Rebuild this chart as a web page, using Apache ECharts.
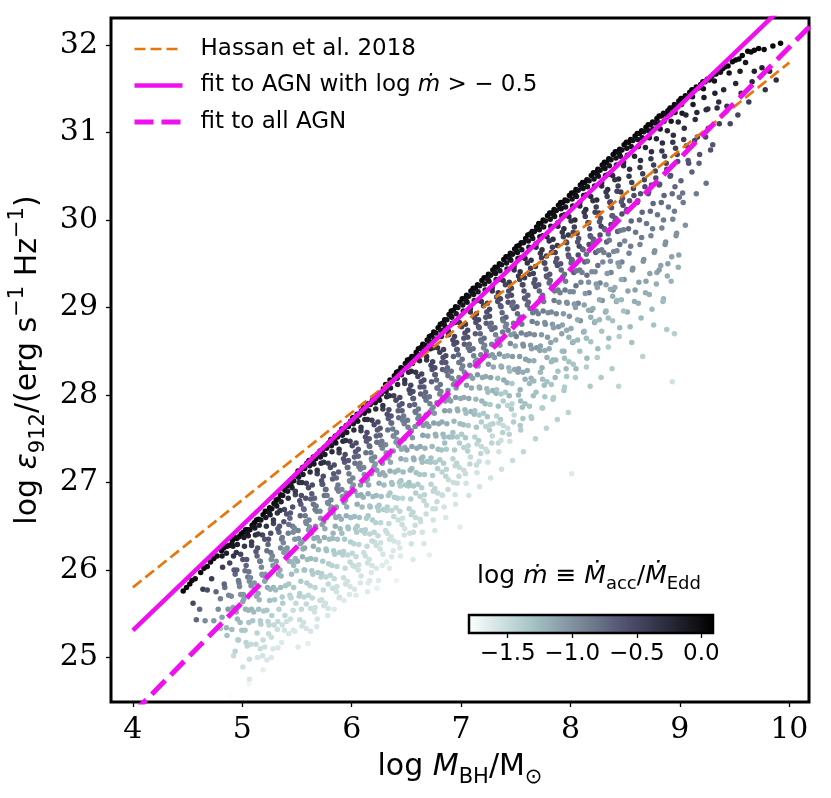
<!DOCTYPE html>
<html><head><meta charset="utf-8">
<script src="https://cdn.jsdelivr.net/npm/echarts@6/dist/echarts.min.js"></script>
<style>html,body{margin:0;padding:0;background:#fff}#c{width:831px;height:798px}</style>
</head><body><div id="c"></div>
<script>
const xTicks=[4,5,6,7,8,9,10];
const yTicks=[25,26,27,28,29,30,31,32];
const cbTicks=[-1.5,-1.0,-0.5,0.0];
const cbRange=[-1.8,0.09];
const legendNames=['Hassan et al. 2018','fit to AGN with log ṁ > − 0.5','fit to all AGN'];
const hassan=[[4,25.8],[10,31.8]];
const fitBright=[[4,25.31],[10.2,32.75]];
const fitAll=[[4,24.36],[10.2,32.23]];
const boneR=['#ffffff','#d3e3e3','#a8c7c7','#8ba1ab','#6f7b8f','#545474','#38384e','#1c1c27','#000000'];
// [log M_BH, log eps912, log mdot]
const agn=[
[4.46,25.76,0.03],[4.49,25.80,0.0],
[4.52,25.84,0.02],[4.54,25.88,0.0],[4.57,25.90,-0.03],[4.55,25.62,-0.5],[4.58,25.43,-0.72],
[4.62,25.97,0.02],[4.65,26.02,0.0],[4.68,26.04,-0.03],[4.64,25.78,-0.42],[4.68,25.77,-0.55],[4.61,25.55,-0.73],[4.66,25.42,-0.95],
[4.71,26.09,0.03],[4.74,26.13,0.0],[4.77,26.16,-0.02],[4.72,25.9,-0.4],[4.76,25.75,-0.72],[4.78,25.55,-0.97],[4.74,25.42,-1.04],
[4.81,26.22,0.02],[4.83,26.25,0.0],[4.86,26.27,0.03],[4.88,26.28,-0.04],[4.82,26.03,-0.42],[4.8,25.67,-0.88],[4.84,25.8,-0.8],[4.86,25.25,-1.3],[4.8,25.33,-1.3],[4.89,24.56,-1.78],[4.87,25.55,-1.05],
[4.91,26.34,0.03],[4.93,26.37,0.0],[4.95,26.36,0.02],[4.97,26.38,-0.04],[4.99,26.41,0.01],[4.92,26.16,-0.35],[4.95,26.0,-0.68],[4.97,25.85,-0.88],[4.9,25.7,-0.97],[4.94,25.55,-1.12],[4.98,25.4,-1.26],[4.96,25.2,-1.38],[4.92,25.02,-1.5],
[5.01,26.43,0.03],[5.03,26.46,0.0],[5.05,26.46,0.02],[5.07,26.46,-0.05],[5.09,26.51,0.0],[5.02,26.27,-0.35],[5.04,26.12,-0.63],[5.06,25.98,-0.82],[5.08,25.82,-1.0],[5.01,25.72,-1.04],[5.03,25.55,-1.2],[5.06,25.4,-1.32],[5.08,25.15,-1.5],[5.06,24.7,-1.72],[5.05,25.92,-0.85],
[5.11,26.54,0.04],[5.13,26.57,0.0],[5.15,26.58,0.02],[5.17,26.57,-0.05],[5.19,26.63,0.01],[5.12,26.4,-0.3],[5.14,26.25,-0.6],[5.16,26.1,-0.85],[5.18,25.95,-1.0],[5.11,25.85,-1.02],[5.13,25.7,-1.17],[5.15,25.55,-1.28],[5.17,25.38,-1.4],[5.19,25.2,-1.5],[5.14,25.0,-1.58],[5.19,24.86,-1.66],
[5.21,26.67,0.04],[5.23,26.67,0.0],[5.25,26.71,0.02],[5.27,26.7,-0.05],[5.29,26.76,0.01],[5.22,26.5,-0.35],[5.24,26.35,-0.62],[5.26,26.2,-0.85],[5.28,26.05,-1.02],[5.21,25.95,-1.03],[5.23,25.8,-1.16],[5.25,25.65,-1.28],[5.27,25.48,-1.4],[5.29,25.37,-1.47],[5.24,25.27,-1.5],[5.28,25.1,-1.6],[5.26,26.42,-0.55],
[5.31,26.8,0.04],[5.33,26.81,0.0],[5.35,26.86,0.02],[5.37,26.85,-0.05],[5.39,26.91,0.01],[5.32,26.65,-0.32],[5.34,26.5,-0.62],[5.36,26.35,-0.86],[5.38,26.2,-1.03],[5.31,26.1,-1.02],[5.33,25.95,-1.16],[5.35,25.8,-1.27],[5.37,25.62,-1.38],[5.39,25.48,-1.47],[5.36,25.17,-1.62],[5.32,25.32,-1.53],[5.38,26.55,-0.6],[5.35,26.25,-0.93],
[5.41,26.96,0.04],[5.43,26.98,0.0],[5.45,27.03,0.02],[5.47,27.02,-0.05],[5.49,27.08,0.01],[5.42,26.82,-0.3],[5.44,26.65,-0.65],[5.46,26.5,-0.86],[5.48,26.35,-1.02],[5.41,26.25,-1.01],[5.43,26.1,-1.15],[5.45,25.95,-1.26],[5.47,25.8,-1.37],[5.49,25.62,-1.48],[5.44,25.44,-1.54],[5.48,25.3,-1.6],[5.46,26.72,-0.58],[5.42,26.42,-0.88],[5.47,26.05,-1.25],
[5.51,27.13,0.04],[5.53,27.13,0.0],[5.55,27.17,0.02],[5.57,27.16,-0.05],[5.59,27.22,0.01],[5.52,27.0,-0.27],[5.54,26.85,-0.55],[5.56,26.7,-0.75],[5.58,26.55,-0.92],[5.51,26.45,-0.92],[5.53,26.3,-1.08],[5.55,26.15,-1.18],[5.57,26.0,-1.3],[5.59,25.85,-1.4],[5.52,25.7,-1.42],[5.54,25.55,-1.49],[5.56,25.4,-1.55],[5.51,25.12,-1.62],[5.58,26.82,-0.6],[5.53,26.62,-0.72],[5.57,26.25,-1.12],
[5.61,27.25,0.04],[5.63,27.25,0.0],[5.65,27.29,0.02],[5.67,27.27,-0.05],[5.69,27.32,0.01],[5.62,27.12,-0.27],[5.64,26.97,-0.55],[5.66,26.82,-0.73],[5.68,26.67,-0.9],[5.61,26.57,-0.93],[5.63,26.42,-1.07],[5.65,26.27,-1.17],[5.67,26.12,-1.29],[5.69,25.97,-1.38],[5.62,25.82,-1.42],[5.64,25.68,-1.48],[5.66,25.52,-1.55],[5.6,25.16,-1.66],[5.68,25.35,-1.6],[5.65,26.75,-0.8],[5.67,26.5,-1.0],
[5.71,27.36,0.04],[5.73,27.36,0.0],[5.75,27.4,0.02],[5.77,27.39,-0.05],[5.79,27.45,0.01],[5.72,27.22,-0.28],[5.74,27.07,-0.55],[5.76,26.92,-0.74],[5.78,26.77,-0.92],[5.71,26.67,-0.93],[5.73,26.52,-1.08],[5.75,26.37,-1.18],[5.77,26.22,-1.3],[5.79,26.07,-1.39],[5.72,25.92,-1.42],[5.74,25.77,-1.49],[5.76,25.62,-1.55],[5.71,25.65,-1.53],[5.78,25.48,-1.6],[5.75,26.85,-0.8],[5.77,26.6,-1.02],[5.73,26.98,-0.62],
[5.81,27.49,0.04],[5.83,27.49,0.0],[5.85,27.53,0.02],[5.87,27.52,-0.05],[5.89,27.57,0.01],[5.82,27.35,-0.27],[5.84,27.2,-0.55],[5.86,27.05,-0.74],[5.88,26.9,-0.92],[5.81,26.8,-0.93],[5.83,26.65,-1.08],[5.85,26.5,-1.17],[5.87,26.35,-1.29],[5.89,26.2,-1.39],[5.82,26.05,-1.42],[5.84,25.9,-1.49],[5.86,25.75,-1.55],[5.89,25.69,-1.57],[5.84,25.55,-1.62],[5.88,27.12,-0.68],[5.86,26.72,-1.02],[5.83,26.42,-1.22],
[5.91,27.61,0.04],[5.93,27.61,0.0],[5.95,27.65,0.02],[5.97,27.64,-0.05],[5.99,27.7,0.01],[5.92,27.47,-0.28],[5.94,27.32,-0.55],[5.96,27.17,-0.74],[5.98,27.02,-0.92],[5.91,26.92,-0.93],[5.93,26.77,-1.08],[5.95,26.62,-1.18],[5.97,26.47,-1.3],[5.99,26.32,-1.39],[5.92,26.17,-1.42],[5.94,26.02,-1.49],[5.96,25.87,-1.55],[5.98,25.72,-1.6],[5.93,25.65,-1.62],[5.97,27.25,-0.65],[5.95,26.88,-1.0],[5.99,26.6,-1.2],[5.91,26.42,-1.28],
[6.01,27.74,0.04],[6.03,27.74,0.0],[6.05,27.78,0.02],[6.07,27.77,-0.05],[6.09,27.82,0.01],[6.02,27.6,-0.27],[6.04,27.45,-0.55],[6.06,27.3,-0.74],[6.08,27.15,-0.92],[6.01,27.05,-0.93],[6.03,26.9,-1.07],[6.05,26.75,-1.17],[6.07,26.6,-1.29],[6.09,26.45,-1.38],[6.02,26.3,-1.42],[6.04,26.15,-1.48],[6.06,26.0,-1.55],[6.08,25.85,-1.6],[6.04,25.71,-1.63],[6.06,27.38,-0.63],[6.03,27.22,-0.8],[6.08,26.97,-1.05],[6.05,26.5,-1.34],[6.01,26.05,-1.52],
[6.11,27.86,0.04],[6.13,27.86,0.0],[6.15,27.9,0.02],[6.17,27.89,-0.05],[6.19,27.94,0.01],[6.12,27.72,-0.27],[6.14,27.57,-0.55],[6.16,27.42,-0.74],[6.18,27.27,-0.92],[6.11,27.17,-0.93],[6.13,27.02,-1.07],[6.15,26.87,-1.17],[6.17,26.72,-1.29],[6.19,26.57,-1.38],[6.12,26.42,-1.42],[6.14,26.27,-1.48],[6.16,26.12,-1.55],[6.18,25.97,-1.6],[6.15,25.85,-1.63],[6.16,27.5,-0.63],[6.13,27.34,-0.8],[6.18,27.1,-1.05],[6.15,26.62,-1.34],[6.11,26.2,-1.52],
[6.21,27.98,0.04],[6.23,27.98,0.0],[6.25,28.02,0.02],[6.27,28.01,-0.05],[6.29,28.07,0.01],[6.22,27.84,-0.27],[6.24,27.69,-0.55],[6.26,27.54,-0.74],[6.28,27.39,-0.92],[6.21,27.29,-0.93],[6.23,27.14,-1.07],[6.25,26.99,-1.17],[6.27,26.84,-1.29],[6.29,26.69,-1.38],[6.22,26.54,-1.42],[6.24,26.39,-1.48],[6.26,26.24,-1.55],[6.23,25.79,-1.68],[6.28,26.05,-1.62],[6.26,27.62,-0.63],[6.23,27.46,-0.8],[6.28,27.22,-1.05],[6.25,26.74,-1.34],[6.21,26.32,-1.52],
[6.31,28.12,0.04],[6.33,28.12,0.0],[6.35,28.17,0.02],[6.37,28.16,-0.05],[6.39,28.22,0.01],[6.32,27.98,-0.27],[6.34,27.83,-0.55],[6.36,27.68,-0.74],[6.38,27.53,-0.92],[6.31,27.43,-0.93],[6.33,27.28,-1.07],[6.35,27.13,-1.17],[6.37,26.98,-1.29],[6.39,26.83,-1.38],[6.32,26.68,-1.42],[6.34,26.53,-1.48],[6.36,26.38,-1.55],[6.32,26.09,-1.64],[6.38,26.22,-1.6],[6.36,27.76,-0.63],[6.33,27.6,-0.8],[6.38,27.36,-1.05],[6.35,26.88,-1.34],[6.31,26.45,-1.52],
[6.41,28.26,0.04],[6.43,28.27,0.0],[6.45,28.31,0.02],[6.47,28.3,-0.05],[6.49,28.36,0.01],[6.42,28.12,-0.25],[6.44,27.97,-0.52],[6.46,27.82,-0.7],[6.48,27.67,-0.88],[6.41,27.57,-0.9],[6.43,27.42,-1.04],[6.45,27.27,-1.14],[6.47,27.12,-1.26],[6.49,26.97,-1.35],[6.42,26.82,-1.4],[6.44,26.67,-1.46],[6.46,26.52,-1.52],[6.41,25.88,-1.7],[6.44,26.25,-1.6],[6.48,26.4,-1.56],[6.46,27.9,-0.6],[6.43,27.74,-0.77],[6.48,27.5,-1.0],[6.45,27.02,-1.3],
[6.51,28.4,0.04],[6.53,28.41,0.0],[6.55,28.44,0.02],[6.57,28.44,-0.05],[6.59,28.49,0.01],[6.52,28.26,-0.24],[6.54,28.11,-0.48],[6.56,27.96,-0.65],[6.58,27.81,-0.82],[6.51,27.71,-0.84],[6.53,27.56,-0.98],[6.55,27.41,-1.1],[6.57,27.26,-1.2],[6.59,27.11,-1.3],[6.52,26.96,-1.33],[6.54,26.81,-1.4],[6.56,26.66,-1.46],[6.58,26.51,-1.52],[6.53,26.42,-1.54],[6.56,26.12,-1.62],[6.56,28.04,-0.57],[6.53,27.88,-0.7],[6.58,27.64,-0.96],[6.55,27.16,-1.25],
[6.61,28.53,0.04],[6.63,28.54,0.0],[6.65,28.58,0.02],[6.67,28.57,-0.05],[6.69,28.63,0.01],[6.62,28.39,-0.24],[6.64,28.24,-0.48],[6.66,28.09,-0.65],[6.68,27.94,-0.82],[6.61,27.84,-0.84],[6.63,27.69,-0.98],[6.65,27.54,-1.1],[6.67,27.39,-1.2],[6.69,27.24,-1.3],[6.62,27.09,-1.33],[6.64,26.94,-1.4],[6.66,26.79,-1.46],[6.68,26.64,-1.52],[6.63,26.55,-1.54],[6.66,26.3,-1.6],[6.66,28.17,-0.57],[6.63,28.01,-0.7],[6.68,27.77,-0.96],[6.65,27.29,-1.25],
[6.71,28.67,0.04],[6.73,28.68,0.0],[6.75,28.72,0.02],[6.77,28.71,-0.05],[6.79,28.77,0.01],[6.72,28.53,-0.23],[6.74,28.38,-0.47],[6.76,28.23,-0.64],[6.78,28.08,-0.8],[6.71,27.98,-0.82],[6.73,27.83,-0.96],[6.75,27.68,-1.08],[6.77,27.53,-1.18],[6.79,27.38,-1.28],[6.72,27.23,-1.32],[6.74,27.08,-1.38],[6.76,26.93,-1.45],[6.78,26.78,-1.5],[6.71,26.17,-1.66],[6.74,26.7,-1.54],[6.76,26.45,-1.6],[6.76,28.31,-0.56],[6.73,28.15,-0.7],[6.78,27.91,-0.94],
[6.81,28.81,0.04],[6.83,28.82,0.0],[6.85,28.86,0.02],[6.87,28.86,-0.05],[6.89,28.92,0.01],[6.82,28.67,-0.23],[6.84,28.52,-0.47],[6.86,28.37,-0.63],[6.88,28.22,-0.8],[6.81,28.12,-0.82],[6.83,27.97,-0.96],[6.85,27.82,-1.07],[6.87,27.67,-1.17],[6.89,27.52,-1.27],[6.82,27.37,-1.31],[6.84,27.22,-1.38],[6.86,27.07,-1.44],[6.88,26.92,-1.5],[6.83,26.85,-1.52],[6.86,26.6,-1.6],[6.86,28.45,-0.55],[6.83,28.29,-0.7],[6.88,28.05,-0.94],[6.85,27.45,-1.28],
[6.91,28.96,0.04],[6.93,28.97,0.0],[6.95,29.01,0.02],[6.97,29.0,-0.05],[6.99,29.06,0.01],[6.92,28.82,-0.23],[6.94,28.67,-0.46],[6.96,28.52,-0.63],[6.98,28.37,-0.79],[6.91,28.27,-0.81],[6.93,28.12,-0.95],[6.95,27.97,-1.06],[6.97,27.82,-1.17],[6.99,27.67,-1.26],[6.92,27.52,-1.3],[6.94,27.37,-1.37],[6.96,27.22,-1.43],[6.98,27.07,-1.49],[6.93,27.0,-1.52],[6.99,26.49,-1.64],[6.95,26.75,-1.58],[6.96,28.6,-0.55],[6.93,28.44,-0.7],[6.98,28.2,-0.93],
[7.01,29.1,0.04],[7.03,29.1,0.0],[7.05,29.14,0.02],[7.07,29.13,-0.05],[7.09,29.19,0.01],[7.02,28.96,-0.22],[7.04,28.81,-0.44],[7.06,28.66,-0.6],[7.08,28.51,-0.76],[7.01,28.41,-0.79],[7.03,28.26,-0.92],[7.05,28.11,-1.03],[7.07,27.96,-1.13],[7.09,27.81,-1.22],[7.02,27.66,-1.27],[7.04,27.51,-1.34],[7.06,27.36,-1.4],[7.08,27.21,-1.46],[7.04,27.1,-1.5],[7.07,26.85,-1.57],[7.06,28.74,-0.52],[7.03,28.58,-0.67],[7.08,28.34,-0.9],
[7.11,29.22,0.04],[7.13,29.22,0.0],[7.15,29.26,0.02],[7.17,29.25,-0.05],[7.19,29.31,0.01],[7.12,29.08,-0.22],[7.14,28.93,-0.44],[7.16,28.78,-0.6],[7.18,28.63,-0.75],[7.11,28.53,-0.78],[7.13,28.38,-0.91],[7.15,28.23,-1.02],[7.17,28.08,-1.12],[7.19,27.93,-1.21],[7.12,27.78,-1.26],[7.14,27.63,-1.33],[7.16,27.48,-1.39],[7.18,27.33,-1.45],[7.14,27.2,-1.5],[7.17,26.95,-1.57],[7.16,28.86,-0.52],[7.13,28.7,-0.67],[7.18,28.46,-0.9],
[7.21,29.34,0.04],[7.23,29.34,0.0],[7.25,29.38,0.02],[7.27,29.37,-0.05],[7.29,29.43,0.01],[7.22,29.2,-0.21],[7.24,29.05,-0.43],[7.26,28.9,-0.59],[7.28,28.75,-0.74],[7.21,28.65,-0.77],[7.23,28.5,-0.9],[7.25,28.35,-1.0],[7.27,28.2,-1.1],[7.29,28.05,-1.19],[7.22,27.9,-1.25],[7.24,27.75,-1.32],[7.26,27.6,-1.38],[7.28,27.45,-1.44],[7.24,27.35,-1.48],[7.27,27.05,-1.56],[7.26,28.98,-0.51],[7.23,28.82,-0.66],[7.28,28.58,-0.88],
[7.31,29.46,0.04],[7.33,29.46,0.0],[7.35,29.5,0.02],[7.37,29.49,-0.05],[7.39,29.55,0.01],[7.32,29.32,-0.2],[7.34,29.17,-0.41],[7.36,29.02,-0.56],[7.38,28.87,-0.71],[7.31,28.77,-0.74],[7.33,28.62,-0.87],[7.35,28.47,-0.98],[7.37,28.32,-1.07],[7.39,28.17,-1.16],[7.32,28.02,-1.22],[7.34,27.87,-1.29],[7.36,27.72,-1.35],[7.38,27.57,-1.41],[7.29,27.67,-1.4],[7.34,27.45,-1.46],[7.37,27.15,-1.54],[7.36,29.1,-0.5],[7.38,28.72,-0.84],
[7.41,29.58,0.04],[7.43,29.58,0.0],[7.45,29.62,0.02],[7.47,29.61,-0.05],[7.49,29.67,0.01],[7.42,29.44,-0.19],[7.44,29.29,-0.39],[7.46,29.14,-0.54],[7.48,28.99,-0.68],[7.41,28.89,-0.71],[7.43,28.74,-0.84],[7.45,28.59,-0.95],[7.47,28.44,-1.04],[7.49,28.29,-1.13],[7.42,28.14,-1.19],[7.44,27.99,-1.26],[7.46,27.84,-1.32],[7.48,27.69,-1.38],[7.44,27.55,-1.42],[7.47,27.25,-1.5],[7.46,29.22,-0.48],[7.43,29.06,-0.63],[7.48,28.82,-0.82],
[7.51,29.7,0.04],[7.53,29.71,0.0],[7.55,29.74,0.02],[7.57,29.74,-0.05],[7.59,29.79,0.01],[7.52,29.56,-0.17],[7.54,29.41,-0.34],[7.56,29.26,-0.48],[7.58,29.11,-0.6],[7.51,29.01,-0.67],[7.53,28.86,-0.79],[7.55,28.71,-0.9],[7.57,28.56,-0.99],[7.59,28.41,-1.07],[7.52,28.26,-1.13],[7.54,28.06,-1.21],[7.56,27.86,-1.29],[7.54,27.65,-1.36],[7.57,27.35,-1.45],[7.58,29.34,-0.42],
[7.61,29.83,0.04],[7.63,29.84,0.0],[7.65,29.87,0.02],[7.67,29.87,-0.05],[7.69,29.92,0.01],[7.62,29.69,-0.17],[7.64,29.54,-0.33],[7.66,29.39,-0.47],[7.68,29.24,-0.59],[7.61,29.14,-0.66],[7.63,28.99,-0.78],[7.65,28.84,-0.88],[7.67,28.69,-0.97],[7.69,28.54,-1.05],[7.62,28.39,-1.12],[7.64,28.19,-1.2],[7.66,27.99,-1.28],[7.64,27.75,-1.36],[7.68,27.5,-1.43],[7.68,29.47,-0.41],
[7.71,29.96,0.04],[7.73,29.96,0.0],[7.75,30.0,0.02],[7.77,29.99,-0.05],[7.79,30.05,0.01],[7.72,29.81,-0.16],[7.74,29.66,-0.32],[7.76,29.51,-0.46],[7.78,29.36,-0.58],[7.71,29.26,-0.64],[7.73,29.11,-0.76],[7.75,28.96,-0.86],[7.77,28.81,-0.95],[7.79,28.66,-1.03],[7.72,28.51,-1.1],[7.74,28.31,-1.19],[7.76,28.11,-1.27],[7.74,27.85,-1.36],[7.78,27.62,-1.43],[7.78,29.59,-0.4],
[7.81,30.08,0.04],[7.83,30.08,0.0],[7.85,30.12,0.02],[7.87,30.11,-0.05],[7.89,30.17,0.01],[7.82,29.93,-0.16],[7.84,29.78,-0.31],[7.86,29.63,-0.45],[7.88,29.48,-0.57],[7.81,29.38,-0.63],[7.83,29.23,-0.75],[7.85,29.08,-0.85],[7.87,28.93,-0.94],[7.89,28.78,-1.02],[7.82,28.6,-1.1],[7.84,28.4,-1.18],[7.86,28.2,-1.26],[7.84,27.95,-1.35],[7.88,27.72,-1.42],[7.88,29.71,-0.39],
[7.91,30.2,0.04],[7.93,30.2,0.0],[7.95,30.23,0.02],[7.97,30.22,-0.05],[7.99,30.28,0.01],[7.92,30.05,-0.16],[7.94,29.9,-0.3],[7.96,29.75,-0.44],[7.98,29.6,-0.56],[7.91,29.5,-0.62],[7.93,29.35,-0.74],[7.95,29.2,-0.84],[7.97,29.05,-0.93],[7.99,28.9,-1.01],[7.92,28.7,-1.1],[7.94,28.5,-1.18],[7.96,28.3,-1.26],[7.94,28.05,-1.35],[7.98,27.8,-1.43],[7.98,29.83,-0.38],
[8.01,30.31,0.04],[8.03,30.31,0.0],[8.05,30.35,0.02],[8.07,30.34,-0.05],[8.09,30.4,0.01],[8.02,30.16,-0.15],[8.04,30.0,-0.28],[8.06,29.85,-0.4],[8.08,29.7,-0.5],[8.01,29.55,-0.6],[8.03,29.4,-0.7],[8.05,29.25,-0.8],[8.07,29.05,-0.9],[8.09,28.85,-1.0],[8.02,28.6,-1.12],[8.05,28.3,-1.25],[8.01,27.1,-1.62],[8.07,29.6,-0.57],
[8.11,30.43,0.04],[8.13,30.43,0.0],[8.15,30.46,0.02],[8.17,30.45,-0.05],[8.19,30.51,0.01],[8.12,30.28,-0.14],[8.14,30.12,-0.28],[8.16,29.97,-0.4],[8.18,29.82,-0.5],[8.11,29.67,-0.6],[8.13,29.52,-0.7],[8.15,29.37,-0.8],[8.17,29.17,-0.9],[8.19,28.97,-1.0],[8.12,28.72,-1.12],[8.15,28.42,-1.25],[8.18,28.1,-1.36],[8.17,29.72,-0.57],
[8.21,30.54,0.04],[8.23,30.54,0.0],[8.25,30.58,0.02],[8.27,30.57,-0.05],[8.29,30.63,0.01],[8.22,30.39,-0.14],[8.24,30.23,-0.28],[8.26,30.08,-0.4],[8.28,29.93,-0.5],[8.21,29.78,-0.6],[8.23,29.63,-0.7],[8.25,29.48,-0.8],[8.27,29.28,-0.9],[8.29,29.08,-1.0],[8.22,28.83,-1.12],[8.25,28.53,-1.25],[8.28,28.2,-1.36],[8.27,29.83,-0.57],
[8.31,30.66,0.04],[8.33,30.66,0.0],[8.35,30.7,0.02],[8.37,30.69,-0.05],[8.39,30.75,0.01],[8.32,30.51,-0.14],[8.34,30.35,-0.28],[8.36,30.2,-0.4],[8.38,30.05,-0.5],[8.31,29.9,-0.6],[8.33,29.75,-0.7],[8.35,29.6,-0.8],[8.37,29.4,-0.9],[8.39,29.2,-1.0],[8.32,28.95,-1.12],[8.35,28.65,-1.25],[8.38,28.3,-1.37],[8.37,29.95,-0.57],
[8.41,30.78,0.04],[8.43,30.78,0.0],[8.45,30.81,0.02],[8.47,30.8,-0.05],[8.49,30.86,0.01],[8.42,30.63,-0.14],[8.44,30.47,-0.28],[8.46,30.32,-0.4],[8.48,30.17,-0.5],[8.41,30.02,-0.6],[8.43,29.87,-0.7],[8.45,29.72,-0.8],[8.47,29.52,-0.9],[8.49,29.32,-1.0],[8.42,29.07,-1.12],[8.45,28.77,-1.25],[8.44,28.1,-1.45],[8.47,30.07,-0.57],
[8.51,30.89,0.04],[8.53,30.89,0.0],[8.55,30.92,0.02],[8.57,30.91,-0.05],[8.59,30.96,0.01],[8.52,30.74,-0.12],[8.54,30.58,-0.3],[8.56,30.43,-0.43],[8.58,30.28,-0.55],[8.51,30.1,-0.62],[8.53,29.9,-0.75],[8.55,29.7,-0.86],[8.57,29.45,-1.0],[8.59,29.2,-1.1],[8.52,28.95,-1.18],[8.56,28.6,-1.3],[8.54,30.22,-0.6],
[8.61,30.99,0.04],[8.63,30.99,0.0],[8.65,31.02,0.02],[8.67,31.01,-0.05],[8.69,31.06,0.01],[8.62,30.84,-0.12],[8.64,30.68,-0.3],[8.66,30.53,-0.43],[8.68,30.38,-0.55],[8.61,30.2,-0.62],[8.63,30.0,-0.75],[8.65,29.8,-0.86],[8.67,29.55,-1.0],[8.69,29.3,-1.1],[8.62,29.05,-1.18],[8.66,28.44,-1.42],[8.64,30.3,-0.6],
[8.71,31.09,0.04],[8.73,31.09,0.0],[8.75,31.12,0.02],[8.77,31.11,-0.05],[8.79,31.16,0.01],[8.72,30.94,-0.12],[8.74,30.78,-0.3],[8.76,30.63,-0.43],[8.78,30.48,-0.55],[8.71,30.3,-0.62],[8.73,30.1,-0.75],[8.75,29.9,-0.86],[8.77,29.65,-1.0],[8.79,29.4,-1.1],[8.72,29.15,-1.18],[8.76,28.8,-1.3],[8.74,30.4,-0.6],
[8.81,31.19,0.04],[8.83,31.19,0.0],[8.85,31.22,0.02],[8.87,31.21,-0.05],[8.89,31.25,0.01],[8.82,31.04,-0.12],[8.84,30.88,-0.3],[8.86,30.73,-0.43],[8.88,30.58,-0.55],[8.81,30.4,-0.62],[8.83,30.2,-0.75],[8.85,30.0,-0.86],[8.87,29.75,-1.0],[8.81,29.43,-1.08],[8.89,29.5,-1.08],[8.85,29.1,-1.22],[8.88,28.75,-1.35],
[8.91,31.28,0.04],[8.93,31.28,0.0],[8.95,31.32,0.02],[8.97,31.31,-0.05],[8.99,31.36,0.01],[8.92,31.13,-0.12],[8.94,30.97,-0.3],[8.96,30.82,-0.43],[8.98,30.67,-0.55],[8.91,30.5,-0.62],[8.93,30.3,-0.75],[8.95,30.1,-0.86],[8.97,29.85,-1.0],[8.99,29.6,-1.1],[8.92,29.3,-1.22],[8.93,28.15,-1.55],[8.95,28.7,-1.4],
[9.01,31.39,0.04],[9.03,31.39,0.0],[9.05,31.42,0.02],[9.07,31.41,-0.05],[9.09,31.46,0.01],[9.02,31.22,-0.14],[9.04,31.05,-0.3],[9.06,30.85,-0.45],[9.08,30.65,-0.58],[9.01,30.45,-0.7],[9.05,29.94,-1.0],[9.03,30.2,-0.85],
[9.11,31.49,0.04],[9.13,31.49,0.0],[9.15,31.52,0.02],[9.17,31.51,-0.05],[9.19,31.55,0.01],[9.12,31.32,-0.14],[9.14,31.15,-0.3],[9.16,30.95,-0.45],[9.18,30.75,-0.58],[9.11,30.55,-0.7],[9.15,30.3,-0.85],
[9.21,31.58,0.04],[9.23,31.58,0.0],[9.25,31.61,0.02],[9.27,31.6,-0.05],[9.29,31.64,0.01],[9.22,31.4,-0.15],[9.24,31.26,-0.26],[9.26,31.05,-0.42],[9.28,30.8,-0.58],[9.24,30.42,-0.8],
[9.31,31.67,0.04],[9.33,31.67,0.0],[9.35,31.7,0.02],[9.37,31.69,-0.05],[9.39,31.73,0.01],[9.32,31.45,-0.18],[9.34,31.28,-0.3],[9.36,31.1,-0.45],[9.3,30.86,-0.62],
[9.41,31.75,0.04],[9.44,31.76,0.0],[9.48,31.81,0.02],[9.4,31.49,-0.22],[9.43,31.3,-0.36],[9.46,31.1,-0.52],
[9.51,31.83,0.04],[9.54,31.84,0.0],[9.57,31.88,0.02],[9.51,31.56,-0.22],[9.56,31.45,-0.3],[9.53,31.2,-0.48],
[9.62,31.93,0.04],[9.65,31.92,0.0],[9.68,31.94,0.02],[9.66,31.58,-0.25],[9.68,31.7,-0.17],[9.63,31.35,-0.42],
[9.72,31.96,0.04],[9.77,31.95,0.0],[9.75,31.74,-0.18],[9.78,31.49,-0.35],
[9.85,31.99,0.02],[9.82,31.7,-0.22],[9.88,31.6,-0.3],
[9.92,32.02,0.03]
];
// second pass of points read between the first ones
const agnFill=[
[4.815,26.16,-0.14],[4.855,26.19,-0.18],[4.885,26.08,-0.48],[4.835,25.84,-0.72],[4.875,25.71,-0.93],[4.815,25.46,-1.1],[4.855,25.34,-1.22],
[4.915,26.27,-0.14],[4.955,26.29,-0.18],[4.985,26.18,-0.48],[4.935,25.95,-0.72],[4.975,25.81,-0.93],[4.915,25.57,-1.1],[4.955,25.44,-1.22],[4.995,25.31,-1.33],[4.935,25.07,-1.43],
[5.015,26.37,-0.14],[5.055,26.39,-0.18],[5.085,26.28,-0.48],[5.035,26.05,-0.72],[5.075,25.91,-0.93],[5.015,25.67,-1.1],[5.055,25.54,-1.22],[5.095,25.42,-1.33],[5.035,25.17,-1.43],[5.065,24.98,-1.52],
[5.115,26.48,-0.14],[5.155,26.51,-0.18],[5.185,26.40,-0.48],[5.135,26.16,-0.72],[5.175,26.03,-0.93],[5.115,25.78,-1.1],[5.155,25.66,-1.22],[5.195,25.53,-1.33],[5.135,25.28,-1.43],[5.165,25.10,-1.52],
[5.215,26.60,-0.14],[5.255,26.63,-0.18],[5.285,26.53,-0.48],[5.235,26.29,-0.72],[5.275,26.16,-0.93],[5.215,25.90,-1.1],[5.255,25.78,-1.22],[5.295,25.66,-1.33],[5.235,25.41,-1.43],[5.265,25.23,-1.52],[5.225,24.97,-1.6],
[5.315,26.73,-0.14],[5.355,26.78,-0.18],[5.385,26.69,-0.48],[5.335,26.43,-0.72],[5.375,26.31,-0.93],[5.315,26.03,-1.1],[5.355,25.93,-1.22],[5.395,25.82,-1.33],[5.335,25.55,-1.43],[5.365,25.37,-1.52],[5.325,25.11,-1.6],
[5.415,26.90,-0.14],[5.455,26.94,-0.18],[5.485,26.86,-0.48],[5.435,26.59,-0.72],[5.475,26.48,-0.93],[5.415,26.20,-1.1],[5.455,26.09,-1.22],[5.495,25.99,-1.33],[5.435,25.71,-1.43],[5.465,25.54,-1.52],[5.425,25.27,-1.6],
[5.515,27.06,-0.12],[5.555,27.09,-0.15],[5.585,26.99,-0.44],[5.535,26.75,-0.65],[5.575,26.62,-0.85],[5.515,26.36,-1.02],[5.555,26.24,-1.14],[5.595,26.12,-1.25],[5.535,25.87,-1.35],[5.565,25.69,-1.45],[5.525,25.43,-1.52],[5.585,25.33,-1.57],
[5.615,27.19,-0.12],[5.655,27.21,-0.15],[5.685,27.10,-0.44],[5.635,26.87,-0.65],[5.675,26.73,-0.85],[5.615,26.49,-1.02],[5.655,26.36,-1.14],[5.695,26.23,-1.25],[5.635,25.99,-1.35],[5.665,25.80,-1.45],[5.625,25.56,-1.52],[5.685,25.44,-1.57],
[5.715,27.29,-0.12],[5.755,27.32,-0.15],[5.785,27.22,-0.44],[5.735,26.98,-0.65],[5.775,26.85,-0.85],[5.715,26.59,-1.02],[5.755,26.47,-1.14],[5.795,26.35,-1.25],[5.735,26.10,-1.35],[5.765,25.92,-1.45],[5.725,25.66,-1.52],[5.785,25.56,-1.57],
[5.815,27.42,-0.12],[5.855,27.45,-0.15],[5.885,27.34,-0.44],[5.835,27.10,-0.65],[5.875,26.97,-0.85],[5.815,26.72,-1.02],[5.855,26.60,-1.14],[5.895,26.47,-1.25],[5.835,26.22,-1.35],[5.865,26.04,-1.45],[5.825,25.79,-1.52],[5.885,25.68,-1.57],
[5.915,27.54,-0.12],[5.955,27.57,-0.15],[5.985,27.47,-0.44],[5.935,27.23,-0.65],[5.975,27.10,-0.85],[5.915,26.84,-1.02],[5.955,26.72,-1.14],[5.995,26.60,-1.25],[5.935,26.35,-1.35],[5.965,26.17,-1.45],[5.925,25.91,-1.52],[5.985,25.81,-1.57],
[6.015,27.67,-0.12],[6.055,27.70,-0.15],[6.085,27.59,-0.44],[6.035,27.35,-0.65],[6.075,27.22,-0.85],[6.015,26.97,-1.02],[6.055,26.85,-1.14],[6.095,26.72,-1.25],[6.035,26.47,-1.35],[6.065,26.29,-1.45],[6.025,26.04,-1.52],[6.085,25.93,-1.57],
[6.115,27.79,-0.12],[6.155,27.82,-0.15],[6.185,27.71,-0.44],[6.135,27.47,-0.65],[6.175,27.34,-0.85],[6.115,27.09,-1.02],[6.155,26.97,-1.14],[6.195,26.84,-1.25],[6.135,26.59,-1.35],[6.165,26.41,-1.45],[6.125,26.16,-1.52],[6.185,26.05,-1.57],[6.145,25.75,-1.63],
[6.215,27.91,-0.12],[6.255,27.94,-0.15],[6.285,27.84,-0.44],[6.235,27.60,-0.65],[6.275,27.47,-0.85],[6.215,27.21,-1.02],[6.255,27.09,-1.14],[6.295,26.97,-1.25],[6.235,26.72,-1.35],[6.265,26.54,-1.45],[6.225,26.28,-1.52],[6.285,26.18,-1.57],[6.245,25.88,-1.63],
[6.315,28.04,-0.12],[6.355,28.08,-0.15],[6.385,27.99,-0.44],[6.335,27.73,-0.65],[6.375,27.61,-0.85],[6.315,27.34,-1.02],[6.355,27.23,-1.14],[6.395,27.12,-1.25],[6.335,26.85,-1.35],[6.365,26.68,-1.45],[6.325,26.42,-1.52],[6.385,26.33,-1.57],[6.345,26.02,-1.63],
[6.415,28.19,-0.12],[6.455,28.23,-0.15],[6.485,28.13,-0.44],[6.435,27.88,-0.65],[6.475,27.76,-0.85],[6.415,27.49,-1.02],[6.455,27.38,-1.14],[6.495,27.26,-1.25],[6.435,27.0,-1.35],[6.465,26.82,-1.45],[6.425,26.57,-1.52],[6.485,26.47,-1.57],[6.445,26.16,-1.63],
[6.515,28.33,-0.1],[6.555,28.36,-0.13],[6.585,28.26,-0.37],[6.535,28.02,-0.57],[6.575,27.89,-0.74],[6.515,27.63,-0.9],[6.555,27.51,-1.03],[6.595,27.39,-1.14],[6.535,27.14,-1.24],[6.565,26.96,-1.35],[6.525,26.70,-1.43],[6.585,26.60,-1.49],[6.545,26.30,-1.56],
[6.615,28.46,-0.1],[6.655,28.50,-0.13],[6.685,28.40,-0.37],[6.635,28.15,-0.57],[6.675,28.03,-0.74],[6.615,27.76,-0.9],[6.655,27.65,-1.03],[6.695,27.53,-1.14],[6.635,27.27,-1.24],[6.665,27.09,-1.35],[6.625,26.84,-1.43],[6.685,26.74,-1.49],[6.645,26.43,-1.56],
[6.715,28.60,-0.1],[6.755,28.64,-0.13],[6.785,28.54,-0.37],[6.735,28.29,-0.57],[6.775,28.17,-0.74],[6.715,27.90,-0.9],[6.755,27.79,-1.03],[6.795,27.67,-1.14],[6.735,27.41,-1.24],[6.765,27.23,-1.35],[6.725,26.98,-1.43],[6.785,26.88,-1.49],[6.745,26.57,-1.56],
[6.815,28.74,-0.1],[6.855,28.78,-0.13],[6.885,28.69,-0.37],[6.835,28.43,-0.57],[6.875,28.31,-0.74],[6.815,28.04,-0.9],[6.855,27.93,-1.03],[6.895,27.82,-1.14],[6.835,27.55,-1.24],[6.865,27.38,-1.35],[6.825,27.12,-1.43],[6.885,27.03,-1.49],[6.845,26.72,-1.56],
[6.915,28.89,-0.1],[6.955,28.93,-0.13],[6.985,28.83,-0.37],[6.935,28.58,-0.57],[6.975,28.46,-0.74],[6.915,28.19,-0.9],[6.955,28.08,-1.03],[6.995,27.96,-1.14],[6.935,27.70,-1.24],[6.965,27.52,-1.35],[6.925,27.27,-1.43],[6.985,27.17,-1.49],[6.945,26.86,-1.56],
[7.015,29.03,-0.1],[7.055,29.06,-0.13],[7.085,28.95,-0.37],[7.035,28.71,-0.57],[7.075,28.58,-0.74],[7.015,28.33,-0.9],[7.055,28.21,-1.03],[7.095,28.08,-1.14],[7.035,27.83,-1.24],[7.065,27.65,-1.35],[7.025,27.40,-1.43],[7.085,27.29,-1.49],[7.045,26.99,-1.56],
[7.115,29.15,-0.1],[7.155,29.18,-0.13],[7.185,29.07,-0.37],[7.135,28.83,-0.57],[7.175,28.70,-0.74],[7.115,28.45,-0.9],[7.155,28.33,-1.03],[7.195,28.20,-1.14],[7.135,27.95,-1.24],[7.165,27.77,-1.35],[7.125,27.52,-1.43],[7.185,27.41,-1.49],[7.145,27.11,-1.56],
[7.215,29.27,-0.1],[7.255,29.30,-0.13],[7.285,29.19,-0.37],[7.235,28.95,-0.57],[7.275,28.82,-0.74],[7.215,28.57,-0.9],[7.255,28.45,-1.03],[7.295,28.32,-1.14],[7.235,28.07,-1.24],[7.265,27.89,-1.35],[7.225,27.64,-1.43],[7.285,27.53,-1.49],[7.245,27.23,-1.56],
[7.315,29.39,-0.1],[7.355,29.42,-0.13],[7.385,29.31,-0.37],[7.335,29.07,-0.57],[7.375,28.94,-0.74],[7.315,28.69,-0.9],[7.355,28.57,-1.03],[7.395,28.44,-1.14],[7.335,28.19,-1.24],[7.365,28.01,-1.35],[7.325,27.76,-1.43],[7.385,27.65,-1.49],[7.345,27.35,-1.56],
[7.415,29.51,-0.1],[7.455,29.54,-0.13],[7.485,29.43,-0.37],[7.435,29.19,-0.57],[7.475,29.06,-0.74],[7.415,28.81,-0.9],[7.455,28.69,-1.03],[7.495,28.56,-1.14],[7.435,28.31,-1.24],[7.465,28.13,-1.35],[7.425,27.88,-1.43],[7.485,27.77,-1.49],[7.445,27.47,-1.56],
[7.515,29.63,-0.08],[7.555,29.66,-0.1],[7.585,29.56,-0.27],[7.535,29.32,-0.44],[7.575,29.19,-0.59],[7.515,28.93,-0.73],[7.555,28.81,-0.85],[7.595,28.69,-0.95],[7.535,28.44,-1.05],[7.565,28.26,-1.16],[7.525,28.0,-1.24],[7.585,27.90,-1.3],[7.545,27.60,-1.38],
[7.615,29.76,-0.08],[7.655,29.79,-0.1],[7.685,29.69,-0.27],[7.635,29.45,-0.44],[7.675,29.32,-0.59],[7.615,29.06,-0.73],[7.655,28.94,-0.85],[7.695,28.82,-0.95],[7.635,28.57,-1.05],[7.665,28.39,-1.16],[7.625,28.13,-1.24],[7.685,28.03,-1.3],[7.645,27.73,-1.38],
[7.715,29.89,-0.08],[7.755,29.92,-0.1],[7.785,29.81,-0.27],[7.735,29.57,-0.44],[7.775,29.44,-0.59],[7.715,29.19,-0.73],[7.755,29.07,-0.85],[7.795,28.94,-0.95],[7.735,28.69,-1.05],[7.765,28.51,-1.16],[7.725,28.26,-1.24],[7.785,28.15,-1.3],[7.745,27.85,-1.38],
[7.815,30.01,-0.08],[7.855,30.04,-0.1],[7.885,29.93,-0.27],[7.835,29.69,-0.44],[7.875,29.56,-0.59],[7.815,29.31,-0.73],[7.855,29.19,-0.85],[7.895,29.06,-0.95],[7.835,28.81,-1.05],[7.865,28.63,-1.16],[7.825,28.38,-1.24],[7.885,28.27,-1.3],[7.845,27.97,-1.38],
[7.915,30.13,-0.08],[7.955,30.15,-0.1],[7.985,30.04,-0.27],[7.935,29.81,-0.44],[7.975,29.67,-0.59],[7.915,29.43,-0.73],[7.955,29.30,-0.85],[7.995,29.18,-0.95],[7.935,28.93,-1.05],[7.965,28.74,-1.16],[7.925,28.50,-1.24],[7.985,28.38,-1.3],[7.945,28.09,-1.38],
[8.015,30.24,-0.08],[8.055,30.27,-0.1],[8.085,30.16,-0.27],[8.035,29.92,-0.44],[8.075,29.79,-0.59],[8.015,29.54,-0.73],[8.055,29.42,-0.85],[8.095,29.29,-0.95],[8.035,29.04,-1.05],[8.065,28.86,-1.16],[8.025,28.61,-1.24],[8.085,28.50,-1.3],[8.045,28.20,-1.38],
[8.115,30.36,-0.08],[8.155,30.38,-0.1],[8.185,30.27,-0.27],[8.135,30.04,-0.44],[8.175,29.90,-0.59],[8.115,29.66,-0.73],[8.155,29.53,-0.85],[8.195,29.41,-0.95],[8.135,29.16,-1.05],[8.165,28.97,-1.16],[8.125,28.73,-1.24],[8.185,28.61,-1.3],[8.145,28.32,-1.38],
[8.215,30.47,-0.08],[8.255,30.50,-0.1],[8.285,30.39,-0.27],[8.235,30.15,-0.44],[8.275,30.02,-0.59],[8.215,29.77,-0.73],[8.255,29.65,-0.85],[8.295,29.52,-0.95],[8.235,29.27,-1.05],[8.265,29.09,-1.16],[8.225,28.84,-1.24],[8.285,28.73,-1.3],[8.245,28.43,-1.38],
[8.315,30.59,-0.08],[8.355,30.62,-0.1],[8.385,30.51,-0.27],[8.335,30.27,-0.44],[8.375,30.14,-0.59],[8.315,29.89,-0.73],[8.355,29.77,-0.85],[8.395,29.64,-0.95],[8.335,29.39,-1.05],[8.365,29.21,-1.16],[8.325,28.96,-1.24],[8.385,28.85,-1.3],[8.345,28.55,-1.38],
[8.415,30.71,-0.08],[8.455,30.73,-0.1],[8.485,30.62,-0.27],[8.435,30.39,-0.44],[8.475,30.25,-0.59],[8.415,30.01,-0.73],[8.455,29.88,-0.85],[8.495,29.76,-0.95],[8.435,29.51,-1.05],[8.465,29.32,-1.16],[8.425,29.08,-1.24],[8.485,28.96,-1.3],[8.445,28.67,-1.38],
[8.515,30.82,-0.06],[8.555,30.84,-0.08],[8.585,30.73,-0.22],[8.535,30.50,-0.37],[8.575,30.36,-0.49],[8.515,30.12,-0.62],[8.555,29.99,-0.72],[8.595,29.86,-0.82],[8.535,29.62,-0.91],[8.565,29.43,-1.01],[8.525,29.19,-1.1],[8.585,29.07,-1.17],[8.545,28.78,-1.25],
[8.615,30.92,-0.06],[8.655,30.94,-0.08],[8.685,30.83,-0.22],[8.635,30.60,-0.37],[8.675,30.46,-0.49],[8.615,30.22,-0.62],[8.655,30.09,-0.72],[8.695,29.96,-0.82],[8.635,29.72,-0.91],[8.665,29.53,-1.01],[8.625,29.29,-1.1],[8.685,29.17,-1.17],[8.645,28.88,-1.25],
[8.715,31.02,-0.06],[8.755,31.04,-0.08],[8.785,30.93,-0.22],[8.735,30.70,-0.37],[8.775,30.56,-0.49],[8.715,30.32,-0.62],[8.755,30.19,-0.72],[8.795,30.06,-0.82],[8.735,29.82,-0.91],[8.765,29.63,-1.01],[8.725,29.39,-1.1],[8.785,29.27,-1.17],[8.745,28.98,-1.25],
[8.815,31.11,-0.06],[8.855,31.13,-0.08],[8.885,31.02,-0.22],[8.835,30.79,-0.37],[8.875,30.65,-0.49],[8.815,30.41,-0.62],[8.855,30.28,-0.72],[8.895,30.15,-0.82],[8.835,29.91,-0.91],[8.865,29.72,-1.01],[8.825,29.48,-1.1],[8.885,29.36,-1.17],[8.845,29.07,-1.25],
[8.915,31.21,-0.06],[8.955,31.23,-0.08],[8.985,31.12,-0.22],[8.935,30.89,-0.37],[8.975,30.75,-0.49],[8.915,30.51,-0.62],[8.955,30.38,-0.72],[8.995,30.26,-0.82],[8.935,30.01,-0.91],[8.965,29.82,-1.01],[8.925,29.58,-1.1],[8.985,29.46,-1.17],
[9.015,31.32,-0.06],[9.055,31.2,-0.22],[9.035,30.92,-0.42],[9.075,30.68,-0.62],[9.025,30.31,-0.82],
[9.115,31.41,-0.06],[9.155,31.23,-0.26],[9.135,30.91,-0.49],[9.175,30.65,-0.7],
[9.215,31.5,-0.06],[9.255,31.27,-0.3],[9.235,30.95,-0.52],
[9.315,31.59,-0.06],[9.355,31.35,-0.3],
[9.45,31.68,-0.08],[9.55,31.7,-0.14],[9.6,31.8,-0.1]
];
// third pass of points, offset from the first two
const agnFill2=[
[4.905,26.30,-0.08],[4.945,26.20,-0.36],[4.925,26.00,-0.65],[4.965,25.88,-0.85],[4.985,25.72,-1.02],[4.945,25.52,-1.15],[4.905,25.32,-1.26],[4.965,25.20,-1.38],
[5.045,26.42,-0.1],[5.085,26.32,-0.4],[5.005,26.12,-0.6],[5.025,25.99,-0.8],[5.065,25.87,-0.96],[5.005,25.64,-1.1],[5.085,25.55,-1.23],[5.025,25.31,-1.34],[5.045,25.13,-1.45],[5.005,24.89,-1.54],[5.065,24.75,-1.61],
[5.105,26.50,-0.08],[5.145,26.41,-0.36],[5.125,26.21,-0.65],[5.165,26.10,-0.85],[5.185,25.94,-1.02],[5.145,25.73,-1.15],[5.105,25.52,-1.26],[5.165,25.42,-1.38],[5.125,25.15,-1.48],[5.185,25.02,-1.56],
[5.245,26.66,-0.1],[5.285,26.57,-0.4],[5.205,26.35,-0.6],[5.225,26.22,-0.8],[5.265,26.12,-0.96],[5.205,25.87,-1.1],[5.285,25.80,-1.23],[5.225,25.54,-1.34],[5.245,25.37,-1.45],[5.205,25.12,-1.54],[5.265,25.0,-1.61],
[5.305,26.75,-0.08],[5.345,26.68,-0.36],[5.325,26.47,-0.65],[5.365,26.37,-0.85],[5.385,26.23,-1.02],[5.345,26.0,-1.15],[5.305,25.77,-1.26],[5.365,25.69,-1.38],[5.325,25.41,-1.48],[5.385,25.31,-1.56],
[5.445,26.97,-0.1],[5.485,26.90,-0.4],[5.405,26.64,-0.6],[5.425,26.52,-0.8],[5.465,26.43,-0.96],[5.405,26.16,-1.1],[5.485,26.13,-1.23],[5.425,25.84,-1.34],[5.445,25.68,-1.45],[5.405,25.41,-1.54],[5.465,25.31,-1.61],
[5.505,27.08,-0.07],[5.545,27.0,-0.32],[5.525,26.79,-0.58],[5.565,26.69,-0.75],[5.585,26.53,-0.95],[5.545,26.32,-1.07],[5.505,26.10,-1.19],[5.565,26.0,-1.3],[5.525,25.73,-1.4],[5.585,25.61,-1.48],[5.545,25.36,-1.55],
[5.645,27.24,-0.09],[5.685,27.14,-0.36],[5.605,26.94,-0.53],[5.625,26.81,-0.7],[5.665,26.69,-0.87],[5.605,26.46,-1.03],[5.685,26.37,-1.15],[5.625,26.13,-1.26],[5.645,25.95,-1.37],[5.605,25.71,-1.46],[5.665,25.57,-1.53],[5.625,25.30,-1.59],
[5.705,27.31,-0.07],[5.745,27.23,-0.32],[5.725,27.02,-0.58],[5.765,26.92,-0.75],[5.785,26.76,-0.95],[5.745,26.55,-1.07],[5.705,26.33,-1.19],[5.765,26.24,-1.3],[5.725,25.96,-1.4],[5.785,25.84,-1.48],[5.745,25.59,-1.55],
[5.845,27.47,-0.09],[5.885,27.38,-0.36],[5.805,27.17,-0.53],[5.825,27.04,-0.7],[5.865,26.93,-0.87],[5.805,26.69,-1.03],[5.885,26.61,-1.15],[5.825,26.36,-1.26],[5.845,26.18,-1.37],[5.805,25.94,-1.46],[5.865,25.81,-1.53],
[5.905,27.56,-0.07],[5.945,27.48,-0.32],[5.925,27.27,-0.58],[5.965,27.17,-0.75],[5.985,27.01,-0.95],[5.945,26.80,-1.07],[5.905,26.58,-1.19],[5.965,26.49,-1.3],[5.925,26.21,-1.4],[5.985,26.09,-1.48],[5.945,25.84,-1.55],
[6.045,27.72,-0.09],[6.085,27.63,-0.36],[6.005,27.42,-0.53],[6.025,27.29,-0.7],[6.065,27.18,-0.87],[6.005,26.94,-1.03],[6.085,26.86,-1.15],[6.025,26.61,-1.26],[6.045,26.43,-1.37],[6.005,26.19,-1.46],[6.065,26.06,-1.53],[6.025,25.78,-1.59],
[6.105,27.81,-0.07],[6.145,27.72,-0.32],[6.125,27.52,-0.58],[6.165,27.41,-0.75],[6.185,27.25,-0.95],[6.145,27.04,-1.07],[6.105,26.83,-1.19],[6.165,26.73,-1.3],[6.125,26.46,-1.4],[6.185,26.33,-1.48],[6.145,26.08,-1.55],[6.165,25.88,-1.61],
[6.245,27.97,-0.09],[6.285,27.88,-0.36],[6.205,27.66,-0.53],[6.225,27.53,-0.7],[6.265,27.43,-0.87],[6.205,27.18,-1.03],[6.285,27.11,-1.15],[6.225,26.85,-1.26],[6.245,26.68,-1.37],[6.205,26.43,-1.46],[6.265,26.31,-1.53],[6.225,26.02,-1.59],
[6.305,28.06,-0.07],[6.345,27.99,-0.32],[6.325,27.78,-0.58],[6.365,27.68,-0.75],[6.385,27.53,-0.95],[6.345,27.31,-1.07],[6.305,27.08,-1.19],[6.365,27.0,-1.3],[6.325,26.72,-1.4],[6.385,26.61,-1.48],[6.345,26.35,-1.55],[6.365,26.15,-1.61],
[6.445,28.25,-0.09],[6.485,28.17,-0.36],[6.405,27.94,-0.53],[6.425,27.82,-0.7],[6.465,27.71,-0.87],[6.405,27.46,-1.03],[6.485,27.40,-1.15],[6.425,27.14,-1.26],[6.445,26.96,-1.37],[6.405,26.71,-1.46],[6.465,26.59,-1.53],[6.425,26.31,-1.59],
[6.505,28.35,-0.06],[6.545,28.27,-0.28],[6.525,28.06,-0.51],[6.565,27.96,-0.67],[6.585,27.80,-0.84],[6.545,27.59,-0.96],[6.505,27.37,-1.07],[6.565,27.28,-1.19],[6.525,27.0,-1.3],[6.585,26.88,-1.39],[6.545,26.63,-1.46],[6.565,26.43,-1.52],
[6.645,28.52,-0.08],[6.685,28.44,-0.31],[6.605,28.21,-0.47],[6.625,28.09,-0.63],[6.665,27.98,-0.78],[6.605,27.73,-0.92],[6.685,27.67,-1.04],[6.625,27.41,-1.15],[6.645,27.23,-1.27],[6.605,26.98,-1.36],[6.665,26.86,-1.44],[6.625,26.58,-1.51],
[6.705,28.62,-0.06],[6.745,28.54,-0.28],[6.725,28.34,-0.51],[6.765,28.23,-0.67],[6.785,28.08,-0.84],[6.745,27.86,-0.96],[6.705,27.64,-1.07],[6.765,27.55,-1.19],[6.725,27.28,-1.3],[6.785,27.16,-1.39],[6.745,26.90,-1.46],[6.765,26.70,-1.52],
[6.845,28.81,-0.08],[6.885,28.73,-0.31],[6.805,28.49,-0.47],[6.825,28.37,-0.63],[6.865,28.27,-0.78],[6.805,28.01,-0.92],[6.885,27.96,-1.04],[6.825,27.69,-1.15],[6.845,27.52,-1.27],[6.805,27.26,-1.36],[6.865,27.15,-1.44],[6.825,26.86,-1.51],
[6.905,28.91,-0.06],[6.945,28.83,-0.28],[6.925,28.63,-0.51],[6.965,28.52,-0.67],[6.985,28.37,-0.84],[6.945,28.15,-0.96],[6.905,27.93,-1.07],[6.965,27.84,-1.19],[6.925,27.57,-1.3],[6.985,27.45,-1.39],[6.945,27.19,-1.46],[6.965,26.99,-1.52],
[7.045,29.08,-0.08],[7.085,28.99,-0.31],[7.005,28.78,-0.47],[7.025,28.65,-0.63],[7.065,28.54,-0.78],[7.005,28.30,-0.92],[7.085,28.22,-1.04],[7.025,27.97,-1.15],[7.045,27.79,-1.27],[7.005,27.55,-1.36],[7.065,27.42,-1.44],[7.025,27.14,-1.51],
[7.105,29.17,-0.06],[7.145,29.08,-0.28],[7.125,28.88,-0.51],[7.165,28.77,-0.67],[7.185,28.61,-0.84],[7.145,28.40,-0.96],[7.105,28.19,-1.07],[7.165,28.09,-1.19],[7.125,27.82,-1.3],[7.185,27.69,-1.39],[7.145,27.44,-1.46],[7.165,27.24,-1.52],
[7.245,29.32,-0.08],[7.285,29.23,-0.31],[7.205,29.02,-0.47],[7.225,28.89,-0.63],[7.265,28.78,-0.78],[7.205,28.54,-0.92],[7.285,28.46,-1.04],[7.225,28.21,-1.15],[7.245,28.03,-1.27],[7.205,27.79,-1.36],[7.265,27.66,-1.44],[7.225,27.38,-1.51],
[7.305,29.41,-0.06],[7.345,29.32,-0.28],[7.325,29.12,-0.51],[7.365,29.01,-0.67],[7.385,28.85,-0.84],[7.345,28.64,-0.96],[7.305,28.43,-1.07],[7.365,28.33,-1.19],[7.325,28.06,-1.3],[7.385,27.93,-1.39],[7.345,27.68,-1.46],[7.365,27.48,-1.52],
[7.445,29.56,-0.08],[7.485,29.47,-0.31],[7.405,29.26,-0.47],[7.425,29.13,-0.63],[7.465,29.02,-0.78],[7.405,28.78,-0.92],[7.485,28.70,-1.04],[7.425,28.45,-1.15],[7.445,28.27,-1.27],[7.405,28.03,-1.36],[7.465,27.90,-1.44],[7.425,27.62,-1.51],
[7.505,29.65,-0.04],[7.545,29.57,-0.2],[7.525,29.36,-0.38],[7.565,29.26,-0.53],[7.585,29.10,-0.67],[7.545,28.89,-0.78],[7.505,28.67,-0.88],[7.565,28.58,-1.0],[7.525,28.30,-1.1],[7.585,28.18,-1.19],[7.545,27.93,-1.27],[7.565,27.73,-1.34],
[7.645,29.82,-0.05],[7.685,29.73,-0.22],[7.605,29.51,-0.35],[7.625,29.38,-0.48],[7.665,29.28,-0.62],[7.605,29.03,-0.74],[7.685,28.96,-0.86],[7.625,28.70,-0.95],[7.645,28.53,-1.08],[7.605,28.28,-1.16],[7.665,28.16,-1.24],[7.625,27.87,-1.32],
[7.705,29.91,-0.04],[7.745,29.82,-0.2],[7.725,29.62,-0.38],[7.765,29.51,-0.53],[7.785,29.35,-0.67],[7.745,29.14,-0.78],[7.705,28.93,-0.88],[7.765,28.83,-1.0],[7.725,28.56,-1.1],[7.785,28.43,-1.19],[7.745,28.18,-1.27],[7.765,27.98,-1.34],
[7.845,30.06,-0.05],[7.885,29.97,-0.22],[7.805,29.76,-0.35],[7.825,29.63,-0.48],[7.865,29.52,-0.62],[7.805,29.28,-0.74],[7.885,29.20,-0.86],[7.825,28.95,-0.95],[7.845,28.77,-1.08],[7.805,28.53,-1.16],[7.865,28.40,-1.24],[7.825,28.12,-1.32],
[7.905,30.15,-0.04],[7.945,30.06,-0.2],[7.925,29.86,-0.38],[7.965,29.74,-0.53],[7.985,29.58,-0.67],[7.945,29.38,-0.78],[7.905,29.17,-0.88],[7.965,29.06,-1.0],[7.925,28.80,-1.1],[7.985,28.66,-1.19],[7.945,28.42,-1.27],[7.965,28.21,-1.34],
[8.045,30.29,-0.05],[8.085,30.20,-0.22],[8.005,29.99,-0.35],[8.025,29.86,-0.48],[8.065,29.75,-0.62],[8.005,29.51,-0.74],[8.085,29.43,-0.86],[8.025,29.18,-0.95],[8.045,29.0,-1.08],[8.005,28.76,-1.16],[8.065,28.63,-1.24],[8.025,28.35,-1.32],
[8.105,30.38,-0.04],[8.145,30.29,-0.2],[8.125,30.09,-0.38],[8.165,29.97,-0.53],[8.185,29.81,-0.67],[8.145,29.61,-0.78],[8.105,29.40,-0.88],[8.165,29.29,-1.0],[8.125,29.03,-1.1],[8.185,28.89,-1.19],[8.145,28.65,-1.27],
[8.245,30.52,-0.05],[8.285,30.43,-0.22],[8.205,30.22,-0.35],[8.225,30.09,-0.48],[8.265,29.98,-0.62],[8.205,29.74,-0.74],[8.285,29.66,-0.86],[8.225,29.41,-0.95],[8.245,29.23,-1.08],[8.205,28.99,-1.16],[8.265,28.86,-1.24],
[8.305,30.61,-0.04],[8.345,30.52,-0.2],[8.325,30.32,-0.38],[8.365,30.21,-0.53],[8.385,30.05,-0.67],[8.345,29.84,-0.78],[8.305,29.63,-0.88],[8.365,29.53,-1.0],[8.325,29.26,-1.1],[8.385,29.13,-1.19],[8.345,28.88,-1.27],
[8.445,30.76,-0.05],[8.485,30.66,-0.22],[8.405,30.46,-0.35],[8.425,30.33,-0.48],[8.465,30.21,-0.62],[8.405,29.98,-0.74],[8.485,29.89,-0.86],[8.425,29.65,-0.95],[8.445,29.47,-1.08],[8.405,29.23,-1.16],[8.465,29.09,-1.24]
];

const ORANGE='#e8760c', MAGENTA='#ee11ee';
const chart=echarts.init(document.getElementById('c'),null,{renderer:'canvas'});
const cbStops=boneR.map((c,i)=>({offset:i/(boneR.length-1),color:c}));
const minus=v=>(v<0?'\u2212':'')+Math.abs(v).toFixed(1);
const SANS='DejaVu Sans', SERIF='DejaVu Serif';
const richAxis={
  n:{fontFamily:SANS,fontSize:30,color:'#000',lineHeight:42,verticalAlign:'middle'},
  i:{fontFamily:SANS,fontStyle:'italic',fontSize:30,color:'#000',lineHeight:42,verticalAlign:'middle'},
  b:{fontFamily:SANS,fontSize:21,color:'#000',lineHeight:20,verticalAlign:'bottom'},
  p:{fontFamily:SANS,fontSize:21,color:'#000',lineHeight:20,verticalAlign:'top'}
};
const legendRich={
  s:{width:13},
  t:{fontFamily:SANS,fontSize:23,color:'#000',lineHeight:26},
  it:{fontFamily:SANS,fontStyle:'italic',fontSize:23,color:'#000',lineHeight:26}
};
const hideSym={color:'rgba(0,0,0,0)',borderWidth:0,opacity:0};
const option={
  animation:false,
  backgroundColor:'#fff',
  grid:[
    {left:111,top:18,width:698,height:684,show:true,borderColor:'#000',borderWidth:3,backgroundColor:'transparent',containLabel:false,outerBoundsMode:'none'},
    {left:469,top:615,width:244,height:18,show:true,borderColor:'#000',borderWidth:2.5,
     backgroundColor:new echarts.graphic.LinearGradient(0,0,1,0,cbStops),containLabel:false,outerBoundsMode:'none'}
  ],
  xAxis:[
    {gridIndex:0,type:'value',min:3.8,max:10.18,
     axisLine:{show:false},splitLine:{show:false},
     axisTick:{show:true,length:5,lineStyle:{color:'#000',width:1.3},customValues:xTicks},
     axisLabel:{customValues:xTicks,fontFamily:SERIF,fontSize:30,color:'#000',margin:13},
     name:'{n|log }{i|M}{b|BH}{n|/M}{b|⊙}',nameLocation:'middle',nameGap:44,
     nameTextStyle:{rich:richAxis}},
    {gridIndex:1,type:'value',min:cbRange[0],max:cbRange[1],
     axisLine:{show:false},splitLine:{show:false},
     axisTick:{show:true,length:5,lineStyle:{color:'#000',width:1.3},customValues:cbTicks},
     axisLabel:{customValues:cbTicks,fontFamily:SANS,fontSize:23,color:'#000',margin:10,formatter:minus}}
  ],
  yAxis:[
    {gridIndex:0,type:'value',min:24.49,max:32.31,
     axisLine:{show:false},splitLine:{show:false},
     axisTick:{show:true,length:5,lineStyle:{color:'#000',width:1.3},customValues:yTicks},
     axisLabel:{customValues:yTicks,fontFamily:SERIF,fontSize:30,color:'#000',margin:13},
     name:'{n|log }{i|ε}{b|912}{n|/(erg s}{p|−1}{n| Hz}{p|−1}{n|)}',nameLocation:'middle',nameGap:46,
     nameTextStyle:{rich:richAxis}},
    {gridIndex:1,type:'value',min:0,max:1,show:false}
  ],
  visualMap:{type:'continuous',show:false,seriesIndex:0,dimension:2,min:cbRange[0],max:cbRange[1],inRange:{color:boneR}},
  legend:{show:true,orient:'vertical',left:132,top:36,padding:0,itemWidth:48,itemHeight:14,itemGap:10.5,
    data:[
      {name:legendNames[0],itemStyle:hideSym,lineStyle:{color:ORANGE,width:2.7,type:[11,5]}},
      {name:legendNames[1],itemStyle:hideSym,lineStyle:{color:MAGENTA,width:4.5,type:'solid'}},
      {name:legendNames[2],itemStyle:hideSym,lineStyle:{color:MAGENTA,width:5,type:[19,8]}}
    ],
    textStyle:{fontFamily:SANS,fontSize:23,color:'#000',lineHeight:26,rich:legendRich},
    formatter:function(name){
      if(name===legendNames[1]) return '{s| }{t|fit to AGN with log }{it|ṁ}{t| > − 0.5}';
      return '{s| }{t|'+name+'}';
    }},
  series:[
    {type:'scatter',name:'AGN',xAxisIndex:0,yAxisIndex:0,data:agn.concat(agnFill,agnFill2),symbol:'circle',symbolSize:5.5,
     itemStyle:{opacity:1},z:2,silent:true},
    {type:'line',name:legendNames[0],data:hassan,symbol:'none',showSymbol:false,z:3,silent:true,
     lineStyle:{color:ORANGE,width:2.7,type:[11,5]},itemStyle:{color:ORANGE}},
    {type:'line',name:legendNames[1],data:fitBright,symbol:'none',showSymbol:false,z:4,silent:true,
     lineStyle:{color:MAGENTA,width:4.5,type:'solid'},itemStyle:{color:MAGENTA}},
    {type:'line',name:legendNames[2],data:fitAll,symbol:'none',showSymbol:false,z:4,silent:true,
     lineStyle:{color:MAGENTA,width:5,type:[19,8]},itemStyle:{color:MAGENTA}}
  ],
  graphic:[
    {type:'text',x:589,y:576,silent:true,
     style:{text:'{n|log }{i|ṁ}{n| ≡ }{i|Ṁ}{b|acc}{n|/}{i|Ṁ}{b|Edd}',align:'center',verticalAlign:'middle',
       rich:{
         n:{fontFamily:SANS,fontSize:25,fill:'#000',lineHeight:34,verticalAlign:'middle'},
         i:{fontFamily:SANS,fontStyle:'italic',fontSize:25,fill:'#000',lineHeight:34,verticalAlign:'middle'},
         b:{fontFamily:SANS,fontSize:18,fill:'#000',lineHeight:18,verticalAlign:'bottom'}
       }}}
  ]
};
chart.setOption(option);
</script></body></html>
